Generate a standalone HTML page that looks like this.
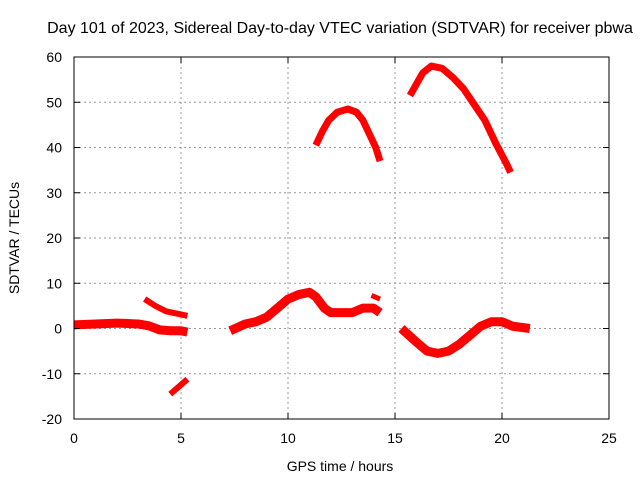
<!DOCTYPE html>
<html><head><meta charset="utf-8"><style>
body{margin:0;background:#fff;}
svg{display:block;font-family:"Liberation Sans",sans-serif;}
</style></head><body>
<svg id="chart" width="640" height="480">
<text x="340" y="33" font-size="16" text-anchor="middle">Day 101 of 2023, Sidereal Day-to-day VTEC variation (SDTVAR) for receiver pbwa</text>
<text x="340" y="471" font-size="14" text-anchor="middle">GPS time / hours</text>
<text transform="translate(19,238) rotate(-90)" font-size="14" text-anchor="middle">SDTVAR / TECUs</text>
<g id="grid"></g><g id="series"></g><g id="axes"></g>
</svg>
<script>
const xTicks=[0,5,10,15,20,25];
const yTicks=[-20,-10,0,10,20,30,40,50,60];
const segA_t=[0,1,2,3,3.5,4,4.5,5,5.3];
const segA_v=[0.8,1,1.2,1,0.6,-0.3,-0.5,-0.5,-0.8];
const segB_t=[3.3,3.8,4.3,4.8,5.3];
const segB_v=[6.5,5,3.8,3.3,2.8];
const segC_t=[4.5,5.3];
const segC_v=[-14.5,-11.2];
const segD_t=[7.3,8,8.5,9,9.5,10,10.5,11,11.3,11.7,12,12.5,13,13.5,14,14.3];
const segD_v=[-0.5,1,1.5,2.5,4.5,6.5,7.5,8,7,4.5,3.5,3.5,3.5,4.5,4.5,3.5];
const segE_t=[11.3,11.6,11.9,12.3,12.8,13.2,13.5,13.8,14.1,14.3];
const segE_v=[40.5,43.5,46,47.8,48.5,47.8,46,43,40,37];
const segF_t=[15.7,16,16.3,16.7,17.2,17.7,18.2,18.7,19.2,19.7,20.2,20.4];
const segF_v=[51.5,54,56.5,58,57.5,55.5,53,49.5,46,41,36.5,34.5];
const segG_t=[15.3,16,16.5,17,17.5,18,18.5,19,19.5,20,20.5,21.3];
const segG_v=[0,-3,-5,-5.5,-5,-3.5,-1.5,0.5,1.5,1.5,0.5,0];
const segH_t=[13.9,14.3];
const segH_v=[7.3,6.5];
const X0=74,X1=609,Y0=419,Y1=57;
const sx=t=>X0+(t-0)/(25)*(X1-X0);
const sy=v=>Y0-(v+20)/80*(Y0-Y1);
const NS="http://www.w3.org/2000/svg";
const grid=document.getElementById('grid'),axes=document.getElementById('axes'),ser=document.getElementById('series');
function mk(tag,attrs,parent){const e=document.createElementNS(NS,tag);for(const k in attrs)e.setAttribute(k,attrs[k]);parent.appendChild(e);return e;}
xTicks.forEach(t=>{
  if(t>0&&t<25){const l=mk('line',{x1:sx(t),x2:sx(t),y1:Y1,y2:Y0,stroke:'#999','stroke-dasharray':'2,3'},grid);
  
  }
  mk('line',{x1:sx(t),x2:sx(t),y1:Y0,y2:Y0-6,stroke:'#000'},axes);
  mk('line',{x1:sx(t),x2:sx(t),y1:Y1,y2:Y1+6,stroke:'#000'},axes);
  const tx=mk('text',{x:sx(t),y:Y0+24,'font-size':14,'text-anchor':'middle'},axes);tx.textContent=t;
  
  
});
yTicks.forEach(v=>{
  if(v>-20&&v<60){const l=mk('line',{x1:X0,x2:X1,y1:sy(v),y2:sy(v),stroke:'#999','stroke-dasharray':'2,3'},grid);
  
  }
  mk('line',{x1:X0,x2:X0+6,y1:sy(v),y2:sy(v),stroke:'#000'},axes);
  mk('line',{x1:X1,x2:X1-6,y1:sy(v),y2:sy(v),stroke:'#000'},axes);
  const tx=mk('text',{x:X0-12,y:sy(v)+5,'font-size':14,'text-anchor':'end'},axes);tx.textContent=v;
  
  
});
const fr=mk('rect',{x:X0,y:Y1,width:X1-X0,height:Y0-Y1,fill:'none',stroke:'#000'},axes);


const segs=[[segA_t,segA_v,9],[segB_t,segB_v,6],[segC_t,segC_v,6],[segD_t,segD_v,9],[segE_t,segE_v,7],[segF_t,segF_v,7],[segG_t,segG_v,9],[segH_t,segH_v,5]];
segs.forEach(([ts,vs,w],i)=>{
  const pts=ts.map((t,j)=>sx(t)+','+sy(vs[j])).join(' ');
  const p=mk('polyline',{points:pts,fill:'none',stroke:'#ff0000','stroke-width':w,'stroke-linejoin':'round','stroke-linecap':'butt'},ser);
  
  
});
</script>
</body></html>
